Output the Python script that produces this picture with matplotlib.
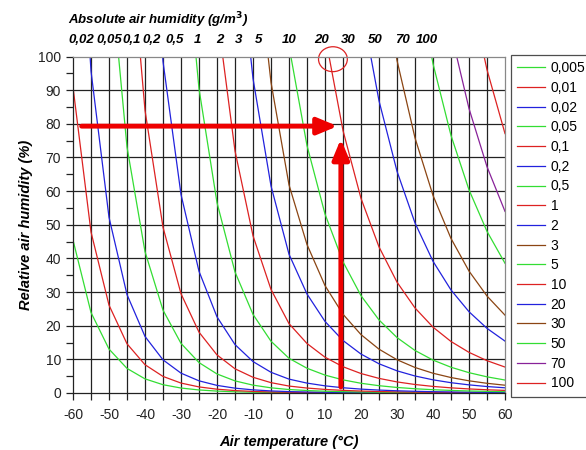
import numpy as np
import matplotlib
matplotlib.use("Agg")
import matplotlib.pyplot as plt
from matplotlib.patches import Ellipse

plt.rcParams['font.family'] = ['Liberation Sans', 'DejaVu Sans']
plt.rcParams['axes.unicode_minus'] = False

# Air temperature (deg C) and saturation vapour density (g/m3) read for each 5 degC step
temperature = [-60, -55, -50, -45, -40, -35, -30, -25, -20, -15, -10, -5, 0,
               5, 10, 15, 20, 25, 30, 35, 40, 45, 50, 55, 60]
saturation_density = [0.0110, 0.0209, 0.0383, 0.0684, 0.119, 0.203, 0.339, 0.553,
                      0.884, 1.39, 2.14, 3.25, 4.85, 6.80, 9.40, 12.82, 17.29,
                      23.03, 30.35, 39.57, 51.09, 65.33, 82.8, 104.1, 129.7]

# Absolute humidity curves (g/m3)
abs_humidity = [0.005, 0.01, 0.02, 0.05, 0.1, 0.2, 0.5, 1, 2, 3, 5, 10, 20, 30, 50, 70, 100]
legend_labels = ["0,005", "0,01", "0,02", "0,05", "0,1", "0,2", "0,5", "1", "2", "3",
                 "5", "10", "20", "30", "50", "70", "100"]
curve_colors = ["#33dd33", "#dd2222", "#2222dd", "#33dd33", "#dd2222", "#2222dd",
                "#33dd33", "#dd2222", "#2222dd", "#8b4513", "#33dd33", "#dd2222",
                "#2222dd", "#8b4513", "#33dd33", "#882299", "#dd2222"]

top_labels = ["0,02", "0,05", "0,1", "0,2", "0,5", "1", "2", "3", "5",
              "10", "20", "30", "50", "70", "100"]
top_label_px = [81, 109, 132, 152, 175, 197, 220, 239, 259, 289, 322, 348, 375, 402, 427]

W, H = 586, 450
fig = plt.figure(figsize=(W / 100, H / 100), dpi=100)
ax = fig.add_axes([73 / W, 1 - 393 / H, (505 - 73) / W, (393 - 56.5) / H])

T = np.array(temperature)
S = np.array(saturation_density)
for ah, lab, col in zip(abs_humidity, legend_labels, curve_colors):
    ax.plot(T, ah / S * 100, color=col, lw=0.9, label=lab)

ax.set_xlim(-60, 60)
ax.set_ylim(0, 100)
ax.set_xticks(np.arange(-60, 61, 10))
ax.set_xticks(np.arange(-60, 61, 5), minor=True)
ax.set_yticks(np.arange(0, 101, 10))
ax.set_yticks(np.arange(0, 101, 5), minor=True)
for x in np.arange(-55, 60, 5):
    ax.axvline(x, color="#222222", lw=0.9, zorder=0.5)
for y in np.arange(10, 100, 10):
    ax.axhline(y, color="#222222", lw=0.9, zorder=0.5)
ax.tick_params(axis='both', which='both', direction='out', length=5, width=0.9,
               color="#222222", labelsize=10, labelcolor="#222222")
ax.tick_params(axis='x', which='major', pad=6)
for s in ax.spines.values():
    s.set_color("#888888")
    s.set_linewidth(0.9)
ax.spines['left'].set_color("#222222")
ax.spines['bottom'].set_color("#222222")

ax.set_xlabel("Air temperature (°C)", fontsize=10.5, fontweight='bold', style='italic', labelpad=9)
ax.set_ylabel("Relative air humidity (%)", fontsize=10.5, fontweight='bold', style='italic', labelpad=4)

# top labels
fig.text(68 / W, 1 - 24 / H, "Absolute air humidity (g/m$^\\mathbf{3}$)", fontsize=9.5,
         fontweight='bold', style='italic', ha='left', va='baseline')
for lab, px in zip(top_labels, top_label_px):
    fig.text(px / W, 1 - 43 / H, lab, fontsize=9.5, fontweight='bold', style='italic',
             ha='center', va='baseline')

# arrows and circle
ax.annotate("", xy=(13.5, 79.3), xytext=(-57.6, 79.3),
            arrowprops=dict(arrowstyle="-|>,head_length=1.2,head_width=0.5",
                            color="#ee0000", lw=3.5, shrinkA=0, shrinkB=0),
            annotation_clip=False)
ax.annotate("", xy=(14.4, 75.5), xytext=(14.4, 1.8),
            arrowprops=dict(arrowstyle="-|>,head_length=1.2,head_width=0.5",
                            color="#ee0000", lw=3.5, shrinkA=0, shrinkB=0),
            annotation_clip=False)
ax.add_patch(Ellipse((12.2, 99.2), 8.0, 7.4, fill=False, edgecolor="#dd2222",
                     lw=0.9, clip_on=False))

leg = fig.legend(loc='upper left', bbox_to_anchor=(511 / W, 1 - 55 / H),
                 fontsize=10, frameon=True, fancybox=False, edgecolor="#222222",
                 handlelength=2.0, handletextpad=0.4, labelspacing=0.41,
                 borderpad=0.45, borderaxespad=0)
leg.get_frame().set_linewidth(0.9)

fig.savefig("out.png", dpi=100)
